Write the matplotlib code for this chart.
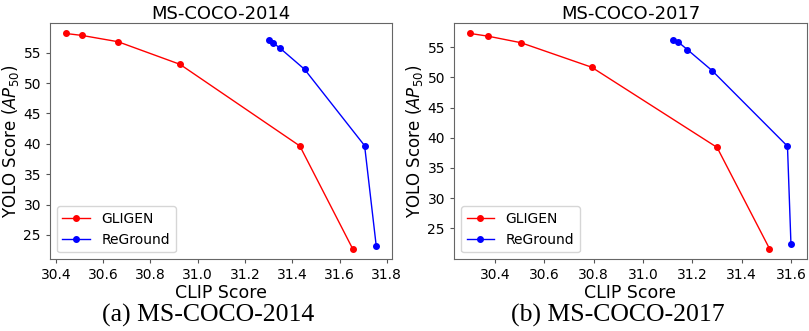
import matplotlib
matplotlib.use("Agg")
import matplotlib.pyplot as plt

# MS-COCO-2014
gligen14_x = [30.441, 30.51, 30.663, 30.925, 31.432, 31.655]
gligen14_y = [58.16, 57.84, 56.8, 53.08, 39.64, 22.75]
reground14_x = [31.30, 31.318, 31.348, 31.452, 31.706, 31.755]
reground14_y = [57.02, 56.64, 55.75, 52.26, 39.69, 23.25]

# MS-COCO-2017
gligen17_x = [30.30, 30.373, 30.506, 30.792, 31.30, 31.512]
gligen17_y = [57.25, 56.8, 55.72, 51.67, 38.4, 21.67]
reground17_x = [31.12, 31.14, 31.18, 31.28, 31.585, 31.599]
reground17_y = [56.25, 55.92, 54.57, 51.1, 38.6, 22.5]

titles = ["MS-COCO-2014", "MS-COCO-2017"]
captions = ["(a) MS-COCO-2014", "(b) MS-COCO-2017"]
xticks14 = [30.4, 30.6, 30.8, 31.0, 31.2, 31.4, 31.6, 31.8]
xticks17 = [30.4, 30.6, 30.8, 31.0, 31.2, 31.4, 31.6]
yticks = [25, 30, 35, 40, 45, 50, 55]

fig = plt.figure(figsize=(8.09, 3.31), dpi=100)
ax1 = fig.add_axes([0.0618, 0.2166, 0.4224, 0.7148])
ax2 = fig.add_axes([0.5612, 0.2166, 0.4363, 0.7148])

data = [
    (ax1, gligen14_x, gligen14_y, reground14_x, reground14_y, xticks14),
    (ax2, gligen17_x, gligen17_y, reground17_x, reground17_y, xticks17),
]

for i, (ax, gx, gy, rx, ry, xt) in enumerate(data):
    ax.plot(gx, gy, color="red", marker="o", markersize=4, linewidth=1, label="GLIGEN")
    ax.plot(rx, ry, color="blue", marker="o", markersize=4, linewidth=1, label="ReGround")
    ax.set_xticks(xt)
    ax.set_xticklabels([f"{v:.1f}" for v in xt])
    ax.set_yticks(yticks)
    ax.tick_params(labelsize=10, length=3, color="#555555")
    ax.set_title(titles[i], fontsize=13, pad=2)
    ax.set_xlabel("CLIP Score", fontsize=12.5, labelpad=1)
    ax.set_ylabel(r"YOLO Score ($AP_{50}$)", fontsize=12, labelpad=2)
    for s in ax.spines.values():
        s.set_color("#666666")
    ax.legend(loc="lower left", fontsize=10)

fig.text(0.257, 0.012, captions[0], ha="center", va="bottom",
         fontsize=18.5, family="Liberation Serif")
fig.text(0.764, 0.012, captions[1], ha="center", va="bottom",
         fontsize=18.5, family="Liberation Serif")

fig.savefig("out.png", dpi=100)
